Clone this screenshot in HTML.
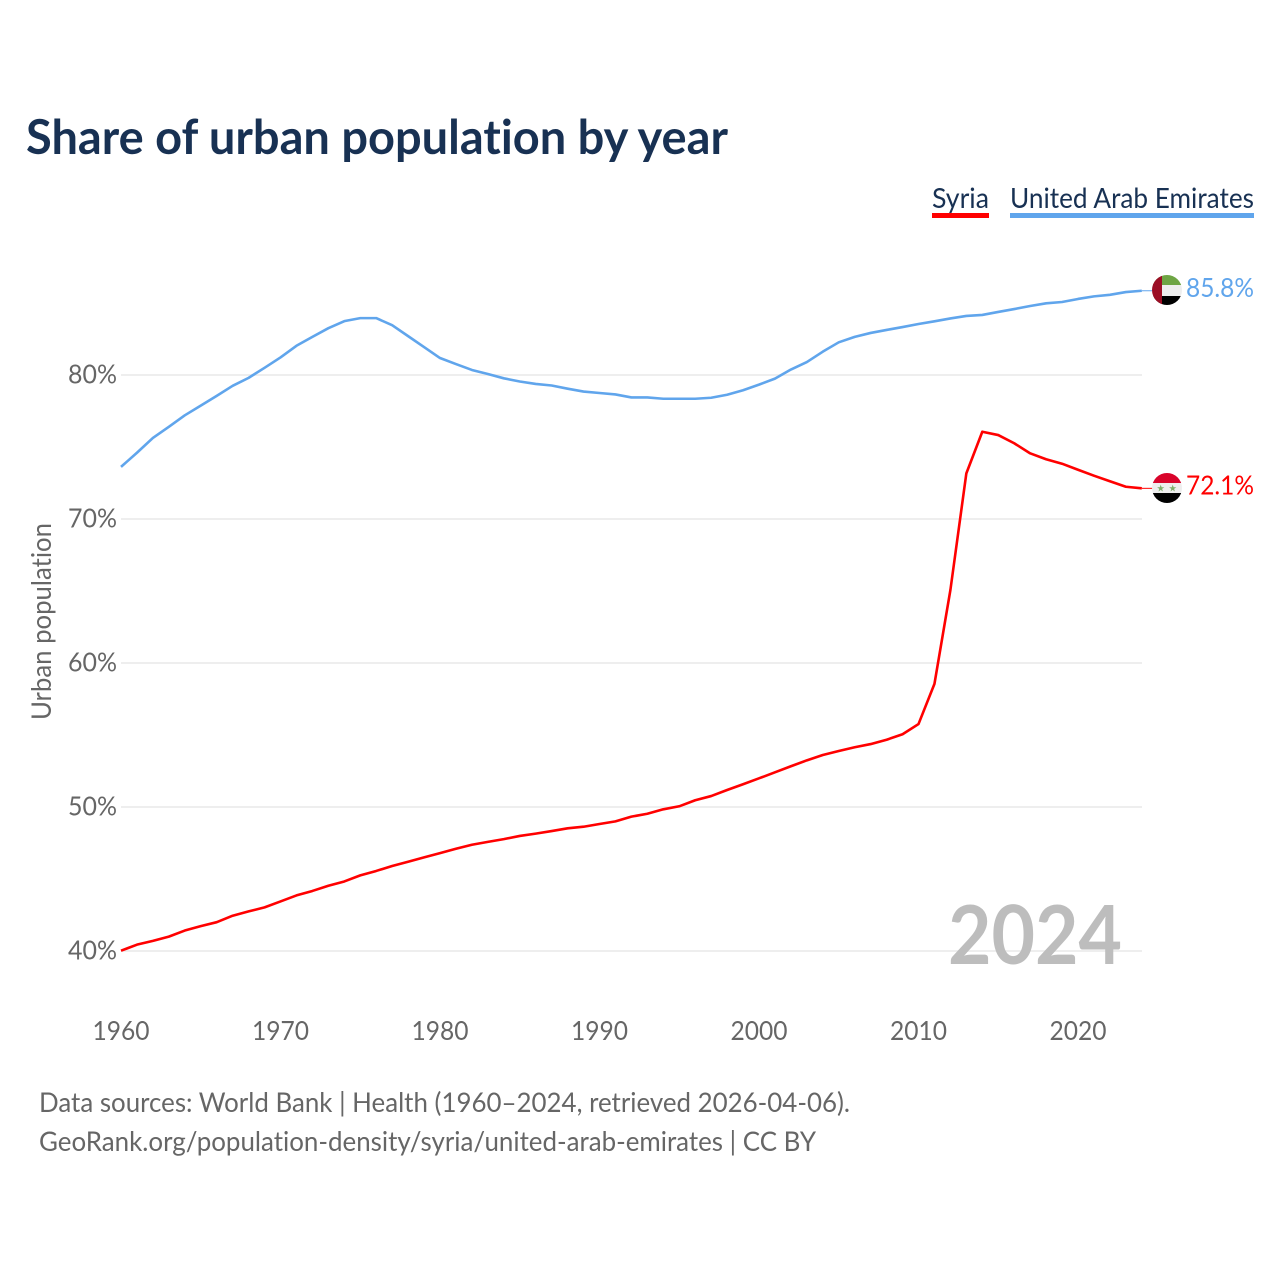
<!DOCTYPE html>
<html lang="en">
<head>
<meta charset="utf-8">
<title>Share of urban population by year</title>
<style>
html,body{margin:0;padding:0;background:#fff;}
svg{display:block;}
text{font-family:"Lato","Carlito","Liberation Sans",sans-serif;font-variant-ligatures:none;}
</style>
</head>
<body>
<svg id="chart" xmlns="http://www.w3.org/2000/svg" width="1280" height="1280" viewBox="0 0 1280 1280">
  <defs>
    <clipPath id="clip-uae"><circle cx="1167" cy="290" r="15"/></clipPath>
    <clipPath id="clip-syria"><circle cx="1167" cy="488" r="15"/></clipPath>
  </defs>
  <text x="26" y="154" font-size="48" font-weight="700" fill="#183153" textLength="702" lengthAdjust="spacingAndGlyphs">Share of urban population by year</text>

  <g>
    <text x="932" y="208" font-size="28" fill="#183153" textLength="57" lengthAdjust="spacingAndGlyphs">Syria</text>
    <rect x="932" y="213" width="57" height="5" fill="#ff0000"/>
    <text x="1010" y="208" font-size="28" fill="#183153" textLength="244" lengthAdjust="spacingAndGlyphs">United Arab Emirates</text>
    <rect x="1010" y="213" width="244" height="5" fill="#60a5ec"/>
  </g>

  <g id="grid"></g>
  <g id="y-ticks"></g>
  <g id="x-ticks"></g>

  <text transform="translate(51,621.5) rotate(-90)" text-anchor="middle" font-size="27" fill="#666" textLength="197" lengthAdjust="spacingAndGlyphs">Urban population</text>

  <text x="948" y="964" font-size="81.5" font-weight="700" fill="#bdbdbd" textLength="174" lengthAdjust="spacingAndGlyphs">2024</text>

  <g id="series"></g>

  <g clip-path="url(#clip-uae)">
    <rect x="1152" y="275" width="30" height="10" fill="#6ea544"/>
    <rect x="1152" y="285" width="30" height="11.5" fill="#eeeeee"/>
    <rect x="1152" y="296" width="30" height="9" fill="#000000"/>
    <rect x="1152" y="275" width="10" height="30" fill="#9c0f25"/>
  </g>
  <g clip-path="url(#clip-syria)">
    <rect x="1152" y="473" width="30" height="10" fill="#d9042b"/>
    <rect x="1152" y="483" width="30" height="10" fill="#eeeeee"/>
    <rect x="1152" y="493" width="30" height="10" fill="#000000"/>
    <polygon points="1160.7,484.6 1161.6,487.2 1164.3,487.2 1162.1,488.9 1162.9,491.5 1160.7,489.9 1158.5,491.5 1159.3,488.9 1157.1,487.2 1159.8,487.2" fill="#7fae6a"/>
    <polygon points="1172.7,484.6 1173.6,487.2 1176.3,487.2 1174.1,488.9 1174.9,491.5 1172.7,489.9 1170.5,491.5 1171.3,488.9 1169.1,487.2 1171.8,487.2" fill="#7fae6a"/>
  </g>

  <g id="end-labels"></g>

  <text x="39" y="1112" font-size="27" fill="#666" textLength="811" lengthAdjust="spacingAndGlyphs">Data sources: World Bank | Health (1960–2024, retrieved 2026-04-06).</text>
  <text x="39" y="1151" font-size="27" fill="#666" textLength="777" lengthAdjust="spacingAndGlyphs">GeoRank.org/population-density/syria/united-arab-emirates | CC BY</text>
</svg>
<script>
const startYear = 1960;
const yTickValues = [40, 50, 60, 70, 80];
const xTickYears = [1960, 1970, 1980, 1990, 2000, 2010, 2020];
const syriaValues = [40.02,40.44,40.7,41.0,41.42,41.73,42.0,42.45,42.75,43.03,43.44,43.86,44.17,44.53,44.83,45.25,45.56,45.9,46.2,46.5,46.8,47.1,47.38,47.58,47.77,47.99,48.15,48.33,48.52,48.63,48.82,49.0,49.33,49.53,49.84,50.05,50.47,50.76,51.18,51.58,51.99,52.41,52.83,53.24,53.61,53.89,54.15,54.37,54.67,55.05,55.76,58.55,65.07,73.17,76.06,75.83,75.26,74.56,74.15,73.84,73.42,73.01,72.62,72.24,72.13];
const uaeValues = [73.62,74.6,75.63,76.4,77.2,77.87,78.55,79.25,79.8,80.5,81.22,82.03,82.65,83.25,83.74,83.95,83.95,83.46,82.7,81.94,81.18,80.76,80.35,80.07,79.77,79.55,79.38,79.27,79.05,78.85,78.75,78.65,78.44,78.44,78.35,78.35,78.35,78.42,78.63,78.94,79.33,79.75,80.38,80.9,81.62,82.27,82.65,82.92,83.13,83.33,83.54,83.73,83.93,84.1,84.17,84.38,84.58,84.79,84.98,85.07,85.28,85.46,85.57,85.76,85.85];
const syriaEndLabel = "72.1%";
const uaeEndLabel = "85.8%";

const SVG_NS = "http://www.w3.org/2000/svg";
const xScale = year => 121 + (year - 1960) * 15.95;
const yScale = value => 951 - (value - 40) * 14.4;

function make(tag, attrs, text) {
  const el = document.createElementNS(SVG_NS, tag);
  for (const k in attrs) el.setAttribute(k, attrs[k]);
  if (text !== undefined) el.textContent = text;
  return el;
}

const grid = document.getElementById("grid");
const yTicks = document.getElementById("y-ticks");
yTickValues.forEach(v => {
  const line = make("line", {x1: 121, x2: 1142, y1: yScale(v), y2: yScale(v), stroke: "#eeeeee", "stroke-width": 2});
  
  
  grid.appendChild(line);
  const label = make("text", {x: 117, y: yScale(v) + 8.5, "text-anchor": "end", "font-size": 26.5, fill: "#666", textLength: 49, lengthAdjust: "spacingAndGlyphs"}, v + "%");
  
  
  yTicks.appendChild(label);
});

const xTicks = document.getElementById("x-ticks");
xTickYears.forEach(y => {
  const label = make("text", {x: xScale(y), y: 1040, "text-anchor": "middle", "font-size": 26.5, fill: "#666", textLength: 57, lengthAdjust: "spacingAndGlyphs"}, y);
  
  
  xTicks.appendChild(label);
});

const seriesGroup = document.getElementById("series");
const endLabels = document.getElementById("end-labels");
function drawSeries(values, color, name, endText) {
  const pts = values.map((v, i) => xScale(startYear + i).toFixed(2) + "," + yScale(v).toFixed(2)).join(" ");
  const line = make("polyline", {points: pts, fill: "none", stroke: color, "stroke-width": 2.6, "stroke-linejoin": "round"});
  
  
  seriesGroup.appendChild(line);
  const lastY = yScale(values[values.length - 1]);
  const lastX = xScale(startYear + values.length - 1);
  const connector = make("line", {x1: lastX, x2: lastX + 11, y1: lastY, y2: lastY, stroke: color, "stroke-width": 1});
  
  
  seriesGroup.appendChild(connector);
  const label = make("text", {x: 1186, y: lastY + 6.2, "font-size": 26.5, fill: color, textLength: 68, lengthAdjust: "spacingAndGlyphs"}, endText);
  
  
  endLabels.appendChild(label);
}
drawSeries(uaeValues, "#60a5ec", "uae", uaeEndLabel);
drawSeries(syriaValues, "#ff0000", "syria", syriaEndLabel);
</script>
</body>
</html>
